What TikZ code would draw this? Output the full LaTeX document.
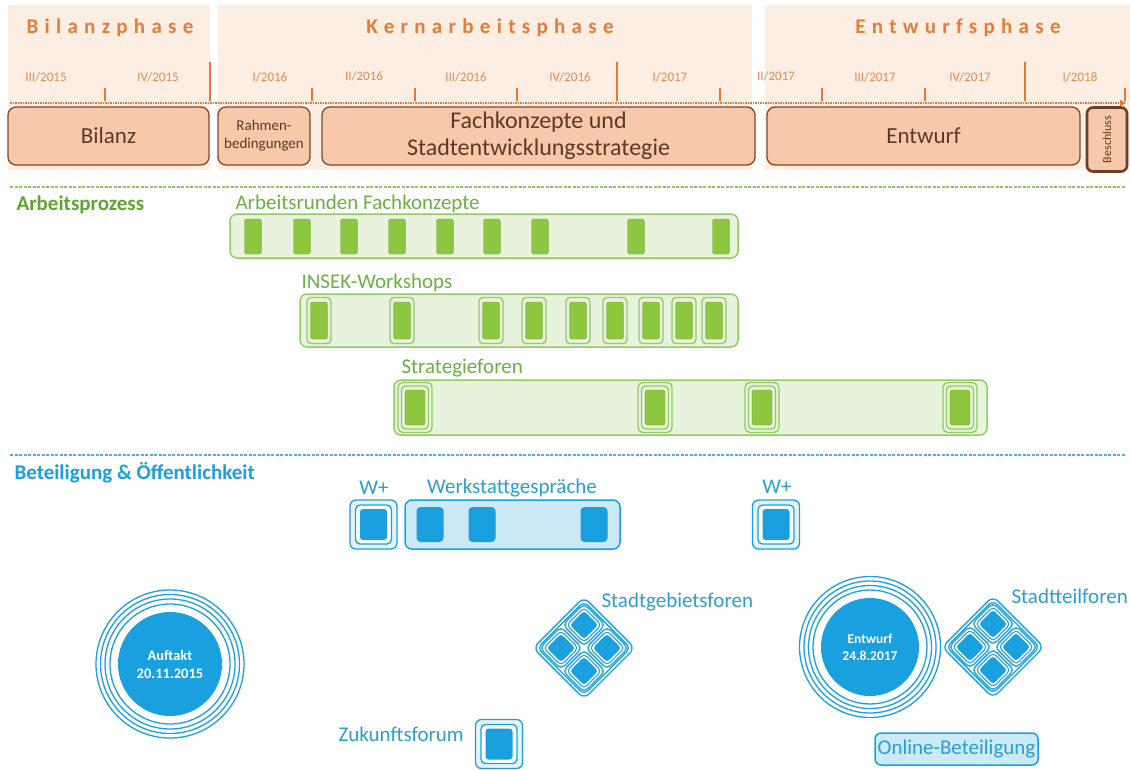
\documentclass[tikz,border=0pt]{standalone}
\usepackage{fontspec}
\setmainfont{Carlito}
\usetikzlibrary{arrows.meta}
\definecolor{peachbg}{HTML}{FDEEE4}
\definecolor{boxfill}{HTML}{F7C8AA}
\definecolor{boxdraw}{HTML}{7B4A2B}
\definecolor{boxtext}{HTML}{5B3A26}
\definecolor{orangetitle}{HTML}{E47D3A}
\definecolor{qlabel}{HTML}{E58A50}
\definecolor{tickc}{HTML}{E07B3A}
\definecolor{grnline}{HTML}{8DC95A}
\definecolor{grnbold}{HTML}{5DA534}
\definecolor{grntext}{HTML}{6BAF45}
\definecolor{grnbarfill}{HTML}{E8F3DD}
\definecolor{grnborder}{HTML}{93CB62}
\definecolor{grnitem}{HTML}{8DC63F}
\definecolor{blueC}{HTML}{1AA0DE}
\definecolor{bluetext}{HTML}{2A9FCF}
\definecolor{bluelight}{HTML}{CCEAF6}
\begin{document}
\begin{tikzpicture}[x=1pt,y=-1pt,
  phasetitle/.style={font=\fontsize{21}{24}\selectfont\bfseries\addfontfeature{LetterSpace=30}, text=orangetitle},
  qlab/.style={font=\fontsize{13}{15}\selectfont, text=qlabel},
  tickline/.style={draw=tickc, line width=1.8pt},
  stagebox/.style={draw=boxdraw, fill=boxfill, rounded corners=8pt, line width=1.3pt, text=boxtext, inner sep=2pt, align=center},
  secbold/.style={font=\fontsize{21}{24}\selectfont\bfseries, anchor=west},
  grnlab/.style={font=\fontsize{21}{24}\selectfont, text=grntext, anchor=west},
  bluelab/.style={font=\fontsize{21}{24}\selectfont, text=bluetext},
  grnbar/.style={draw=grnborder, fill=grnbarfill, line width=1.5pt, rounded corners=7pt},
  grnring/.style={draw=grnborder, line width=1.3pt, rounded corners=4pt},
  grnfill/.style={fill=grnitem, draw=grnitem!85!black, line width=0.4pt, rounded corners=2.5pt},
  bluebar/.style={draw=blueC, fill=bluelight, line width=1.5pt, rounded corners=7pt},
  bluering/.style={draw=blueC, line width=1.3pt},
  disk/.style={circle, fill=blueC, text=white, font=\fontsize{14.5}{18}\selectfont\bfseries, align=center, inner sep=0pt},
  insek/.pic={
    \draw[grnring, fill=grnbarfill] (-12,-23) rectangle (12,23);
    \draw[grnfill] (-8.5,-18.5) rectangle (8.5,18.5);
  },
  strat/.pic={
    \draw[grnring, fill=grnbarfill, rounded corners=5pt] (-17,-25) rectangle (17,25);
    \draw[grnring] (-13.5,-21.5) rectangle (13.5,21.5);
    \draw[grnfill] (-10,-17.5) rectangle (10,17.5);
  },
  bluetri/.pic={
    \draw[bluering, fill=bluelight!50, rounded corners=6pt] (-23.5,-24.5) rectangle (23.5,24.5);
    \draw[bluering, fill=white, rounded corners=4.5pt] (-18,-19.5) rectangle (18,19.5);
    \fill[blueC, rounded corners=3pt] (-13.5,-15.5) rectangle (13.5,15.5);
  },
  diam/.pic={
    \begin{scope}[rotate=45]
      \draw[bluering, rounded corners=7pt] (-36,-36) rectangle (36,36);
      \draw[bluering, rounded corners=6pt] (-33,-33) rectangle (33,33);
      \foreach \a/\b in {-1/-1,-1/1,1/-1,1/1}{
        \draw[bluering, rounded corners=5pt] (\a*16.3-15,\b*16.3-15) rectangle (\a*16.3+15,\b*16.3+15);
        \draw[bluering, line width=1pt, rounded corners=4pt] (\a*16.3-12.3,\b*16.3-12.3) rectangle (\a*16.3+12.3,\b*16.3+12.3);
        \fill[blueC, rounded corners=3pt] (\a*16.3-10,\b*16.3-10) rectangle (\a*16.3+10,\b*16.3+10);
      }
    \end{scope}
  }
]
\useasboundingbox (0,0) rectangle (1130,769);

% phase backgrounds
\fill[peachbg] (8,5) rectangle (210,170);
\fill[peachbg] (218,5) rectangle (752,170);
\fill[peachbg] (765,5) rectangle (1130,170);

% phase titles
\node[phasetitle] (tBil) at (110,28) {Bilanzphase};
\node[phasetitle] (tKern) at (490,28) {Kernarbeitsphase};
\node[phasetitle] (tEnt) at (958,28) {Entwurfsphase};

% quarter labels
\node[qlab] (q1) at (46,77) {III/2015};
\node[qlab] (q2) at (158,77) {IV/2015};
\node[qlab] (q3) at (270,77) {I/2016};
\node[qlab] (q4) at (364,76) {II/2016};
\node[qlab] (q5) at (466,77) {III/2016};
\node[qlab] (q6) at (570,77) {IV/2016};
\node[qlab] (q7) at (670,77) {I/2017};
\node[qlab] (q8) at (776,76) {II/2017};
\node[qlab] (q9) at (875,77) {III/2017};
\node[qlab] (q10) at (970,77) {IV/2017};
\node[qlab] (q11) at (1080,77) {I/2018};

% ticks
\foreach \x in {105,312,415,517,720,822,925,1125}{\draw[tickline] (\x,88) -- (\x,101);}
\foreach \x in {210,617,1025}{\draw[tickline] (\x,62) -- (\x,101);}

% timeline
\coordinate (tlA) at (10,103);
\coordinate (tlB) at (1126,103);
\draw[draw=tickc, line width=1.6pt, dash pattern=on 1.5pt off 1pt, -{Triangle[length=6pt,width=6pt]}] (tlA) -- (tlB);

% stage boxes
\node[stagebox, minimum width=201pt, minimum height=58pt, font=\fontsize{23}{26}\selectfont] (bilanz) at (108.5,136) {Bilanz};
\node[stagebox, minimum width=92pt, minimum height=58pt, font=\fontsize{15}{18}\selectfont, inner sep=1pt] (rahmen) at (264,136) {Rahmen-\\bedingungen};
\node[stagebox, minimum width=433pt, minimum height=58pt, font=\fontsize{24}{27}\selectfont] (fach) at (538.5,136) {Fachkonzepte und\\Stadtentwicklungsstrategie};
\node[stagebox, minimum width=313pt, minimum height=58pt, font=\fontsize{23}{26}\selectfont] (entw) at (923.5,136) {Entwurf};
\node[stagebox, draw=boxdraw!85!black, line width=2.6pt, minimum width=40pt, minimum height=64pt, rounded corners=6pt] (besch) at (1107,139.5) {};
\node[rotate=90, font=\fontsize{12}{14}\selectfont, text=boxtext] (beschT) at (besch.center) {Beschluss};

% green section
\coordinate (gA) at (10,187);
\coordinate (gB) at (1126,187);
\draw[draw=grnline, line width=1.3pt, dash pattern=on 3pt off 1.5pt] (gA) -- (gB);
\node[secbold, text=grnbold] (arb) at (13,205) {Arbeitsprozess};

\node[grnlab] (l1) at (232,204) {Arbeitsrunden Fachkonzepte};
\node[grnbar, minimum width=508pt, minimum height=44pt] (bar1) at (484,236) {};
\foreach \x in {253,302,349,397,445,492,540,636,721}{\draw[grnfill] (\x-8.5,219) rectangle (\x+8.5,254);}

\node[grnlab] (l2) at (298,283) {INSEK-Workshops};
\node[grnbar, minimum width=438pt, minimum height=53pt] (bar2) at (519,320.5) {};
\foreach \x in {319,402,491,534,578,615,651,684,714}{\pic at (\x,320.5) {insek};}

\node[grnlab] (l3) at (398,368) {Strategieforen};
\node[grnbar, minimum width=593pt, minimum height=55pt] (bar3) at (690.5,407.5) {};
\foreach \x in {415,655,762,960}{\pic at (\x,407.5) {strat};}

% blue section
\coordinate (bA) at (10,455);
\coordinate (bB) at (1126,455);
\draw[draw=blueC!80, line width=1.3pt, dash pattern=on 3pt off 1.5pt] (bA) -- (bB);
\node[secbold, text=blueC] (bet) at (11,473) {Beteiligung \& Öffentlichkeit};

\node[bluelab] (wp1) at (374,488) {W+};
\pic at (373.5,524.5) {bluetri};
\node[bluelab] (werk) at (512,488) {Werkstattgespräche};
\node[bluebar, minimum width=215pt, minimum height=49pt] (wbar) at (512.5,524.5) {};
\foreach \x in {430,482,594}{\fill[blueC, rounded corners=4pt] (\x-13.5,507) rectangle (\x+13.5,542);}
\node[bluelab] (wp2) at (777,487) {W+};
\pic at (776,524.5) {bluetri};

% Auftakt circle
\node[disk, minimum size=104pt] (auftakt) at (170,664) {Auftakt\\20.11.2015};
\foreach \r in {60,65,69.5,74}{\draw[bluering] (auftakt.center) circle[radius=\r];}

% Entwurf circle
\node[disk, minimum size=98pt, font=\fontsize{13.5}{17}\selectfont\bfseries] (entwc) at (870,647) {Entwurf\\24.8.2017};
\foreach \r in {57,61.5,66,70.5}{\draw[bluering] (entwc.center) circle[radius=\r];}

% diamonds
\pic at (584,648) {diam};
\node[bluelab, anchor=west] (sgf) at (598,602) {Stadtgebietsforen};
\pic at (993,647) {diam};
\node[bluelab, anchor=west] (stf) at (1008,596) {Stadtteilforen};

% Zukunftsforum
\node[bluelab, anchor=west] (zuk) at (335,734) {Zukunftsforum};
\pic at (499,744) {bluetri};

% Online-Beteiligung
\node[draw=blueC, fill=bluelight, line width=1.5pt, rounded corners=6pt, minimum width=163pt, minimum height=32pt, inner sep=0pt, font=\fontsize{21}{24}\selectfont, text=bluetext] (online) at (956.5,749) {Online-Beteiligung};
\end{tikzpicture}
\end{document}
